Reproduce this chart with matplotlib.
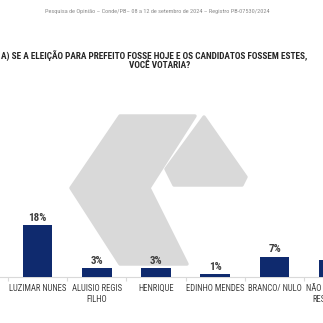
import matplotlib
matplotlib.use("Agg")
import matplotlib.pyplot as plt
from matplotlib.patches import Polygon

FONT = ['Roboto Condensed', 'DejaVu Sans']

categories = ["LUZIMAR NUNES", "ALUISIO REGIS\nFILHO", "HENRIQUE", "EDINHO MENDES",
              "BRANCO/ NULO", "NÃO SABE/ NÃO\nRESPONDEU"]
values = [18, 3, 3, 1, 7, 6]
value_labels = ["18%", "3%", "3%", "1%", "7%", "6%"]

header = "Pesquisa de Opinião – Conde/PB– 08 a 12 de setembro de 2024 – Registro PB-07530/2024"
title1 = "A) SE A ELEIÇÃO PARA PREFEITO FOSSE HOJE E OS CANDIDATOS FOSSEM ESTES,"
title2 = "VOCÊ VOTARIA?"

W = H = 323
fig = plt.figure(figsize=(3.23, 3.23), dpi=100)

# background watermark in pixel coords
bg = fig.add_axes([0, 0, 1, 1], zorder=0)
bg.set_xlim(0, W)
bg.set_ylim(H, 0)
bg.axis('off')
gray = '#d9d9d9'
left_shape = [(120, 116), (195, 116), (149, 188), (187, 264), (120, 264), (71, 188)]
right_shape = [(204, 117), (246, 177), (242, 185), (174, 185), (166, 169)]
for pts in (left_shape, right_shape):
    bg.add_patch(Polygon(pts, closed=True, facecolor=gray, edgecolor=gray,
                         linewidth=2.5, joinstyle='round'))

fig.text(157 / W, 1 - 11 / H, header, ha='center', va='center', fontsize=4.5,
         color='#8c8c8c', family=FONT)
fig.text(1 / W, 1 - 56 / H, title1, ha='left', va='center', fontsize=6.7,
         fontweight='bold', color='#262626', family=FONT)
fig.text(160 / W, 1 - 66 / H, title2, ha='center', va='center', fontsize=6.7,
         fontweight='bold', color='#262626', family=FONT)

# main axes: baseline at y=277 px, extends past the right edge (chart is cropped)
y0 = 277
top = 100
extra = 80
ax = fig.add_axes([0, 1 - y0 / H, (W + extra) / W, (y0 - top) / H], zorder=1)
ax.patch.set_alpha(0)
step = 59.3
c0 = 37.4
x = list(range(len(categories)))
ax.bar(x, values, width=0.5, color='#0f2a6e', zorder=3)
for xi, v, lab in zip(x, values, value_labels):
    ax.text(xi, v + 0.9, lab, ha='center', va='bottom', fontsize=8,
            fontweight='bold', color='#404040', family=FONT)

for s in ('top', 'right', 'left'):
    ax.spines[s].set_visible(False)
ax.spines['bottom'].set_color('#d9d9d9')
ax.spines['bottom'].set_linewidth(0.8)
ax.set_yticks([])
ax.set_xticks(x)
ax.set_xticklabels(categories, fontsize=6.2, color='#404040', family=FONT,
                   linespacing=1.25)
ax.tick_params(axis='x', which='major', length=0, pad=5)
ax.set_xticks([i + 0.5 for i in range(-1, len(categories))], minor=True)
ax.tick_params(axis='x', which='minor', length=3, color='#d9d9d9', width=0.8)
ax.set_xlim(-c0 / step, (W + extra - c0) / step)
ax.set_ylim(0, (y0 - top) / 2.88)

fig.savefig('out.png', dpi=100)
